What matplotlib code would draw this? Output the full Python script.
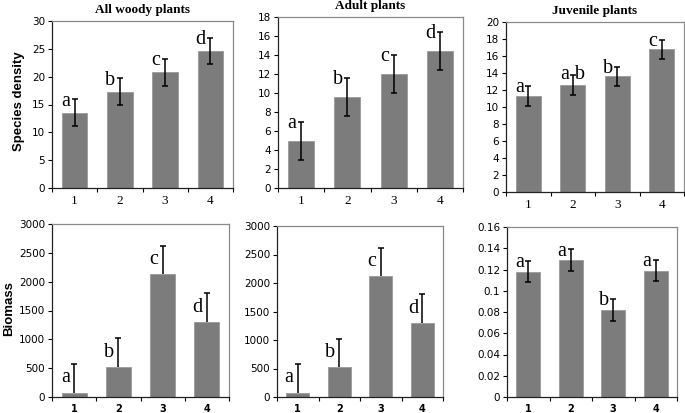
import numpy as np
import matplotlib
matplotlib.use('Agg')
import matplotlib.pyplot as plt
from matplotlib.ticker import FixedLocator, FuncFormatter

W, H = 685, 413

groups = [1, 2, 3, 4]

# species density
woody_density = [13.5, 17.3, 20.8, 24.6]
woody_density_err = [2.4, 2.4, 2.4, 2.4]
woody_density_letters = ['a', 'b', 'c', 'd']

adult_density = [5.0, 9.6, 12.0, 14.4]
adult_density_err = [2.0, 2.0, 2.0, 2.0]
adult_density_letters = ['a', 'b', 'c', 'd']

juv_density = [11.3, 12.6, 13.6, 16.8]
juv_density_err = [1.2, 1.2, 1.1, 1.1]
juv_density_letters = ['a', 'a b', 'b', 'c']

# biomass
woody_biomass = [70, 520, 2130, 1300]
woody_biomass_err = [510, 500, 490, 500]
woody_biomass_letters = ['a', 'b', 'c', 'd']

adult_biomass = [70, 520, 2130, 1300]
adult_biomass_err = [510, 500, 490, 500]
adult_biomass_letters = ['a', 'b', 'c', 'd']

juv_biomass = [0.118, 0.129, 0.082, 0.119]
juv_biomass_err = [0.010, 0.010, 0.010, 0.010]
juv_biomass_letters = ['a', 'a', 'b', 'a']

titles = ['All woody plants', 'Adult plants', 'Juvenile plants']

BAR_COLOR = '#7c7c7c'


def px_axes(fig, x0, y0, x1, y1):
    return fig.add_axes([x0 / W, 1 - y1 / H, (x1 - x0) / W, (y1 - y0) / H])


def draw_panel(ax, vals, errs, letters, ymax, ystep, top_row, plus_only=False):
    x = np.array(groups)
    vals = np.array(vals)
    errs = np.array(errs)
    ax.bar(x, vals, width=0.56, color=BAR_COLOR, edgecolor='#9a9a9a', linewidth=0.6, zorder=2)
    if plus_only:
        # only the upper half of the error bar, cap at the top
        ax.vlines(x, vals, vals + errs, color='black', linewidth=1.1, zorder=3)
        ax.plot(x, vals + errs, ls='none', marker='_', ms=5, mew=1.1, color='black', zorder=3)
    else:
        ax.errorbar(x, vals, yerr=errs, fmt='none', ecolor='black', elinewidth=1.1,
                    capsize=2.2, capthick=1.1, zorder=3)
    for xi, v, e, lab in zip(x, vals, errs, letters):
        if plus_only:
            ty = v + e - 0.08 * ymax
        else:
            ty = v + e - 0.01 * ymax
        if len(lab) > 1:
            ax.text(xi, ty + 0.01 * ymax, lab, ha='center', va='center', fontsize=14.5,
                    family='Liberation Serif', zorder=4)
        else:
            ax.text(xi - 0.1, ty, lab, ha='right', va='center', fontsize=14.5,
                    family='Liberation Serif', zorder=4)

    ax.set_xlim(0.5, 4.5)
    ax.set_ylim(0, ymax)
    ax.yaxis.set_major_locator(FixedLocator(np.arange(0, ymax + ystep / 2, ystep)))
    ax.yaxis.set_major_formatter(FuncFormatter(lambda v, p: f'{round(v, 4):g}'))
    ax.set_xticks(groups)
    ax.set_xticks([0.5, 1.5, 2.5, 3.5, 4.5], minor=True)
    ax.tick_params(axis='x', which='major', length=0, pad=5)
    ax.tick_params(axis='x', which='minor', length=3, direction='out', width=0.8)
    ax.tick_params(axis='y', length=3, direction='out', width=0.8, labelsize=7.5, pad=2)
    for lbl in ax.get_yticklabels():
        lbl.set_family('DejaVu Sans')
    if top_row:
        for lbl in ax.get_xticklabels():
            lbl.set_family('Liberation Serif')
            lbl.set_fontsize(9.5)
    else:
        for lbl in ax.get_xticklabels():
            lbl.set_family('DejaVu Sans')
            lbl.set_fontweight('bold')
            lbl.set_fontsize(7)
    ax.spines['left'].set_color('#222222')
    ax.spines['bottom'].set_color('#222222')
    ax.spines['top'].set_color('#8a8a8a')
    ax.spines['right'].set_color('#8a8a8a')
    for s in ax.spines.values():
        s.set_linewidth(0.9)


fig = plt.figure(figsize=(W / 100, H / 100), dpi=100)

ax1 = px_axes(fig, 52, 21, 233, 188)
ax2 = px_axes(fig, 278, 17, 463, 188)
ax3 = px_axes(fig, 506, 22, 684, 192)
ax4 = px_axes(fig, 52, 224, 229, 397)
ax5 = px_axes(fig, 277, 226, 443, 397)
ax6 = px_axes(fig, 507, 227, 677, 397)

draw_panel(ax1, woody_density, woody_density_err, woody_density_letters, 30, 5, True)
draw_panel(ax2, adult_density, adult_density_err, adult_density_letters, 18, 2, True)
draw_panel(ax3, juv_density, juv_density_err, juv_density_letters, 20, 2, True)
draw_panel(ax4, woody_biomass, woody_biomass_err, woody_biomass_letters, 3000, 500, False, plus_only=True)
draw_panel(ax5, adult_biomass, adult_biomass_err, adult_biomass_letters, 3000, 500, False, plus_only=True)
draw_panel(ax6, juv_biomass, juv_biomass_err, juv_biomass_letters, 0.16, 0.02, False)

for ax, t in zip([ax1, ax2, ax3], titles):
    ax.set_title(t, fontsize=9.5, fontweight='bold', family='Liberation Serif', pad=6)

ax1.set_ylabel('Species density', fontsize=9.5, fontweight='bold', family='Liberation Sans')
ax4.set_ylabel('Biomass', fontsize=9.5, fontweight='bold', family='Liberation Sans')
ax1.yaxis.set_label_coords((25 - 52) / 181, 0.52)
ax4.yaxis.set_label_coords((15 - 52) / 177, 0.51)

fig.savefig('out.png', dpi=100)
